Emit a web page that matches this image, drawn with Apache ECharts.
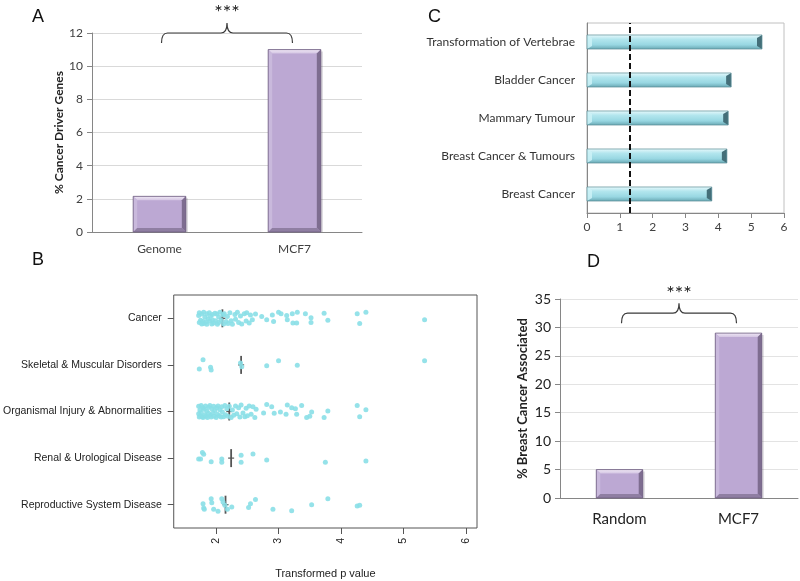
<!DOCTYPE html>
<html><head><meta charset="utf-8">
<script src="https://cdn.jsdelivr.net/npm/echarts@6/dist/echarts.min.js"></script>
<style>html,body{margin:0;padding:0;background:#fff}#c{width:800px;height:581px}</style>
</head><body><div id="c"></div>
<script>
// ---------- Panel A ----------
const aCats = ['Genome', 'MCF7'];
const aValues = [2.15, 11.0];
const aBraceAt = 12;
// ---------- Panel C ----------
const cCats = ['Breast Cancer', 'Breast Cancer & Tumours', 'Mammary Tumour', 'Bladder Cancer', 'Transformation of Vertebrae'];
const cValues = [3.80, 4.26, 4.30, 4.39, 5.33];
const cThreshold = 1.3;
// ---------- Panel B ----------
const bCats = ['Cancer', 'Skeletal & Muscular Disorders', 'Organismal Injury & Abnormalities', 'Renal & Urological Disease', 'Reproductive System Disease'];
const bTicks = [2, 3, 4, 5, 6];
const bMedians = [2.10, 2.40, 2.21, 2.24, 2.15];
const cancerX = [1.72,1.73,1.73,1.75,1.77,1.77,1.79,1.80,1.80,1.82,1.84,1.85,1.85,1.87,1.89,1.90,1.91,1.93,1.94,1.94,1.96,1.98,1.99,2.01,2.02,2.04,2.04,2.06,2.08,2.11,2.12,2.13,2.16,2.18,2.19,2.22,2.24,2.26,2.30,2.31,2.34,2.36,2.39,2.41,2.45,2.48,2.49,2.53,2.55,2.58,2.63,
  2.73,2.81,2.90,2.92,3.00,3.04,3.13,3.14,3.22,3.23,3.30,3.29,3.43,3.52,3.52,3.73,3.79,4.26,4.30,4.40,5.34];
const cancerJit = [-0.06,0.09,-0.12,0.04,0.12,-0.09,0.07,-0.13,0.11,-0.02,0.08,-0.10,0.13,0.01,-0.12,0.06,-0.05,0.12,-0.08,0.03,0.10,-0.11,0.05,-0.09,0.13,-0.03,0.09,-0.13,0.04,-0.07,0.12,-0.10,0.07,-0.04,0.11,-0.12,0.05,0.13,-0.08,0.02,-0.13,0.09,-0.05,0.12,-0.10,0.06,-0.12,0.10,-0.07,0.03,-0.09,
  -0.04,0.03,-0.07,0.07,-0.13,-0.10,-0.06,0.03,-0.10,0.10,-0.13,0.10,-0.10,-0.01,0.09,-0.11,0.04,-0.10,0.11,-0.13,0.03];
const skeletalX = [1.73,1.79,1.91,1.92,2.39,2.41,2.81,3.00,3.30,5.34];
const skeletalJit = [0.09,-0.11,0.05,0.11,-0.04,0.04,0.02,-0.09,0.01,-0.09];
const organX = [1.72,1.72,1.73,1.74,1.75,1.76,1.76,1.78,1.79,1.79,1.81,1.82,1.83,1.84,1.85,1.86,1.88,1.88,1.90,1.91,1.92,1.93,1.95,1.96,1.97,1.98,2.00,2.01,2.02,2.03,2.05,2.06,2.08,2.09,2.10,2.12,2.14,2.15,2.17,2.19,2.21,2.24,2.26,2.28,2.31,2.33,2.36,2.38,2.40,2.43,2.46,2.48,2.50,2.53,2.56,2.59,2.62,2.64,
  2.76,2.81,2.89,2.93,3.03,3.12,3.14,3.21,3.27,3.29,3.37,3.45,3.50,3.53,3.73,3.79,4.26,4.30,4.40];
const organJit = [0.05,-0.11,0.12,-0.03,0.09,-0.13,0.02,0.11,-0.08,0.13,-0.05,0.07,-0.12,0.10,-0.01,0.13,-0.09,0.04,-0.13,0.08,0.12,-0.06,0.03,-0.11,0.10,-0.02,0.13,-0.08,0.06,-0.12,0.09,-0.04,0.12,-0.10,0.01,0.11,-0.13,0.07,-0.06,0.10,-0.11,0.13,-0.03,0.08,-0.12,0.05,-0.08,0.12,-0.14,0.03,0.11,-0.07,0.09,-0.12,0.06,-0.10,0.13,-0.05,
  0.03,-0.15,-0.10,0.04,0.01,0.06,-0.14,-0.08,-0.06,0.06,-0.13,0.13,0.10,0.01,0.13,-0.01,-0.13,0.11,-0.04];
const renalX = [1.72,1.75,1.78,1.80,1.92,2.09,2.09,2.40,2.40,2.59,2.81,3.75,4.40];
const renalJit = [0.02,0.02,-0.12,-0.08,0.08,0.02,0.09,-0.06,0.09,-0.09,0.04,0.09,0.06];
const reproX = [1.79,1.80,1.81,1.92,1.93,1.96,2.03,2.09,2.11,2.14,2.18,2.25,2.52,2.55,2.63,2.91,3.21,3.53,3.79,4.26,4.30];
const reproJit = [-0.02,0.07,0.10,-0.13,-0.04,0.10,0.14,-0.13,-0.06,0.01,0.10,0.05,0.06,-0.02,-0.11,0.10,0.13,0.00,-0.13,0.03,0.01];
// ---------- Panel D ----------
const dCats = ['Random', 'MCF7'];
const dValues = [5, 29];
const dBraceAt = 32.5;

const calibri = 'Lato';
const arial = 'Liberation Sans';

function bevelBar(ratio, b) {
  return function (params, api) {
    const idx = api.value(0), v = api.value(1);
    const pt = api.coord([idx, v]), pb = api.coord([idx, 0]);
    const w = api.size([1, 0])[0] * ratio;
    const x0 = pt[0] - w / 2, x1 = pt[0] + w / 2, y0 = pt[1], y1 = pb[1];
    return {
      type: 'group', children: [
        { type: 'rect', shape: { x: x0 + 2, y: y0 + 2, width: w, height: y1 - y0 - 2 }, style: { fill: 'rgba(80,70,90,0.22)' } },
        { type: 'rect', shape: { x: x0, y: y0, width: w, height: y1 - y0 }, style: { fill: '#bca8d3' } },
        { type: 'polygon', shape: { points: [[x0, y0], [x1, y0], [x1 - b, y0 + b], [x0 + b, y0 + b]] },
          style: { fill: new echarts.graphic.LinearGradient(0, 0, 0, 1, [{ offset: 0, color: '#efe7f5' }, { offset: 1, color: '#d3c4e2' }]) } },
        { type: 'polygon', shape: { points: [[x0, y0], [x0 + b, y0 + b], [x0 + b, y1 - b], [x0, y1]] }, style: { fill: '#c9b9dc' } },
        { type: 'polygon', shape: { points: [[x1, y0], [x1, y1], [x1 - b, y1 - b], [x1 - b, y0 + b]] }, style: { fill: '#7e6d90' } },
        { type: 'polygon', shape: { points: [[x0, y1], [x1, y1], [x1 - b, y1 - b], [x0 + b, y1 - b]] }, style: { fill: '#8f7ea2' } },
        { type: 'rect', shape: { x: x0, y: y0, width: w, height: y1 - y0 }, style: { fill: 'none', stroke: '#6c5c7e', lineWidth: 0.8 } }
      ]
    };
  };
}

function hBar(params, api) {
  const v = api.value(0), idx = api.value(1);
  const p0 = api.coord([0, idx]), p1 = api.coord([v, idx]);
  const h = api.size([0, 1])[1] * 0.37;
  const x0 = p0[0], x1 = p1[0], y0 = p0[1] - h / 2, y1 = p0[1] + h / 2;
  const b = 5;
  return {
    type: 'group', children: [
      { type: 'rect', shape: { x: x0, y: y0, width: x1 - x0, height: h },
        style: { fill: new echarts.graphic.LinearGradient(0, 0, 0, 1, [
          { offset: 0, color: '#e6f8fb' }, { offset: 0.3, color: '#b3e6ee' },
          { offset: 0.7, color: '#98d7e2' }, { offset: 1, color: '#6aa9b5' }]) } },
      { type: 'polygon', shape: { points: [[x0, y0], [x0 + b, y0 + 3], [x0 + b, y1 - 3], [x0, y1]] }, style: { fill: 'rgba(205,242,247,0.85)' } },
      { type: 'polygon', shape: { points: [[x1, y0], [x1, y1], [x1 - b, y1 - 3], [x1 - b, y0 + 3]] }, style: { fill: '#446f79' } },
      { type: 'rect', shape: { x: x0, y: y0, width: x1 - x0, height: h }, style: { fill: 'none', stroke: '#5a8c97', lineWidth: 0.7 } }
    ]
  };
}

function brace(params, api) {
  const yv = api.value(2);
  const pa = api.coord([api.value(0), yv]), pb = api.coord([api.value(1), yv]);
  const x0 = pa[0] + 2, x1 = pb[0] - 2, y = pa[1], mid = (x0 + x1) / 2;
  const d = 'M' + x0 + ' ' + (y + 10) + ' Q' + x0 + ' ' + y + ' ' + (x0 + 6) + ' ' + y +
    ' L' + (mid - 6) + ' ' + y + ' Q' + mid + ' ' + y + ' ' + mid + ' ' + (y - 10) +
    ' Q' + mid + ' ' + y + ' ' + (mid + 6) + ' ' + y + ' L' + (x1 - 6) + ' ' + y +
    ' Q' + x1 + ' ' + y + ' ' + x1 + ' ' + (y + 10);
  return {
    type: 'group', children: [
      { type: 'path', shape: { pathData: d }, style: { fill: 'none', stroke: '#3a3a3a', lineWidth: 1.2 } },
      { type: 'text', x: mid, y: y - 10, style: { text: '***', font: '20px ' + calibri, fill: '#222', align: 'center', verticalAlign: 'bottom' } }
    ]
  };
}

function medianMark(params, api) {
  const p = api.coord([api.value(0), api.value(1)]);
  return {
    type: 'group', children: [
      { type: 'line', shape: { x1: p[0], y1: p[1] - 9, x2: p[0], y2: p[1] + 9 }, style: { stroke: '#555', lineWidth: 1.8 } },
      { type: 'line', shape: { x1: p[0] - 3, y1: p[1], x2: p[0] + 3, y2: p[1] }, style: { stroke: '#555', lineWidth: 1.2 } }
    ]
  };
}

const groupsX = [cancerX, skeletalX, organX, renalX, reproX];
const groupsJ = [cancerJit, skeletalJit, organJit, renalJit, reproJit];
const scatterData = [];
groupsX.forEach((xs, g) => xs.forEach((x, i) => scatterData.push([x, g + 1 + groupsJ[g][i]])));

const axisGrey = '#868686';
const chart = echarts.init(document.getElementById('c'));
chart.setOption({
  animation: false,
  backgroundColor: '#fff',
  grid: [
    { left: 92, top: 33, width: 270, height: 199 },
    { left: 587, top: 23, width: 197, height: 190, show: true, borderColor: '#c0c0c0', borderWidth: 1 },
    { left: 173, top: 295, width: 304, height: 233, show: true, borderColor: '#555', borderWidth: 1 },
    { left: 560, top: 299, width: 238, height: 199 }
  ],
  xAxis: [
    { type: 'category', gridIndex: 0, data: aCats,
      axisLine: { lineStyle: { color: axisGrey } }, axisTick: { length: 5, lineStyle: { color: axisGrey } },
      axisLabel: { fontFamily: calibri, fontSize: 12, color: '#404040', margin: 11 } },
    { type: 'value', gridIndex: 1, min: 0, max: 6, interval: 1, splitLine: { show: false },
      axisLine: { show: true, lineStyle: { color: axisGrey } }, axisTick: { show: true, length: 5, lineStyle: { color: axisGrey } },
      axisLabel: { fontFamily: calibri, fontSize: 12, color: '#404040', margin: 8 } },
    { type: 'value', gridIndex: 2, min: 1.32, max: 6.18, splitLine: { show: false },
      axisLine: { show: false },
      axisTick: { show: true, length: 6, customValues: bTicks, lineStyle: { color: '#555' } },
      axisLabel: { customValues: bTicks, rotate: 90, fontFamily: arial, fontSize: 10.5, color: '#222', margin: 10 },
      name: 'Transformed p value', nameLocation: 'middle', nameGap: 40,
      nameTextStyle: { fontFamily: arial, fontSize: 11, color: '#222' } },
    { type: 'category', gridIndex: 3, data: dCats,
      axisLine: { lineStyle: { color: axisGrey } }, axisTick: { length: 5, lineStyle: { color: axisGrey } },
      axisLabel: { fontFamily: calibri, fontSize: 15, color: '#222', margin: 14 } }
  ],
  yAxis: [
    { type: 'value', gridIndex: 0, min: 0, max: 12, interval: 2,
      splitLine: { lineStyle: { color: '#d9d9d9' } },
      axisLine: { show: true, lineStyle: { color: axisGrey } }, axisTick: { show: true, length: 5, lineStyle: { color: axisGrey } },
      axisLabel: { fontFamily: calibri, fontSize: 12, color: '#404040', margin: 9 },
      name: '% Cancer Driver Genes', nameLocation: 'middle', nameGap: 27,
      nameTextStyle: { fontFamily: calibri, fontSize: 12, fontWeight: 'bold', color: '#222' } },
    { type: 'category', gridIndex: 1, data: cCats,
      axisLine: { lineStyle: { color: axisGrey } }, axisTick: { length: 5, lineStyle: { color: axisGrey } },
      axisLabel: { fontFamily: calibri, fontSize: 12, color: '#333', margin: 12 } },
    { type: 'value', gridIndex: 2, min: 0.5, max: 5.5, inverse: true, splitLine: { show: false },
      axisLine: { show: false },
      axisTick: { show: true, length: 6, customValues: [1, 2, 3, 4, 5], lineStyle: { color: '#555' } },
      axisLabel: { customValues: [1, 2, 3, 4, 5], formatter: v => bCats[Math.round(v) - 1],
        fontFamily: arial, fontSize: 10.5, color: '#222', margin: 12 } },
    { type: 'value', gridIndex: 3, min: 0, max: 35, interval: 5,
      splitLine: { lineStyle: { color: '#e3e3e3' } },
      axisLine: { show: true, lineStyle: { color: axisGrey } }, axisTick: { show: true, length: 5, lineStyle: { color: axisGrey } },
      axisLabel: { fontFamily: calibri, fontSize: 14, color: '#222', margin: 9 },
      name: '% Breast Cancer Associated', nameLocation: 'middle', nameGap: 31,
      nameTextStyle: { fontFamily: calibri, fontSize: 13, fontWeight: 'bold', color: '#222' } }
  ],
  series: [
    { type: 'custom', xAxisIndex: 0, yAxisIndex: 0, renderItem: bevelBar(0.39, 4),
      data: aValues.map((v, i) => [i, v]), encode: { x: 0, y: 1 }, silent: true },
    { type: 'custom', xAxisIndex: 0, yAxisIndex: 0, renderItem: brace, data: [[0, 1, aBraceAt]], encode: { x: [0, 1], y: 2 }, silent: true, clip: false },
    { type: 'custom', xAxisIndex: 1, yAxisIndex: 1, renderItem: hBar,
      data: cValues.map((v, i) => [v, i]), encode: { x: 0, y: 1 }, silent: true,
      markLine: { silent: true, symbol: ['none', 'none'], label: { show: false },
        lineStyle: { type: [6, 3], color: '#111', width: 2 }, data: [{ xAxis: cThreshold }] } },
    { type: 'scatter', xAxisIndex: 2, yAxisIndex: 2, data: scatterData, symbolSize: 5,
      itemStyle: { color: '#8adfe7', opacity: 0.9 }, silent: true },
    { type: 'custom', xAxisIndex: 2, yAxisIndex: 2, renderItem: medianMark,
      data: bMedians.map((m, i) => [m, i + 1]), encode: { x: 0, y: 1 }, silent: true },
    { type: 'custom', xAxisIndex: 3, yAxisIndex: 3, renderItem: bevelBar(0.39, 4),
      data: dValues.map((v, i) => [i, v]), encode: { x: 0, y: 1 }, silent: true },
    { type: 'custom', xAxisIndex: 3, yAxisIndex: 3, renderItem: brace, data: [[0, 1, dBraceAt]], encode: { x: [0, 1], y: 2 }, silent: true, clip: false }
  ],
  graphic: [
    { type: 'text', left: 32, top: 8, style: { text: 'A', font: '18px ' + arial, fill: '#111' } },
    { type: 'text', left: 428, top: 8, style: { text: 'C', font: '18px ' + arial, fill: '#111' } },
    { type: 'text', left: 32, top: 251, style: { text: 'B', font: '18px ' + arial, fill: '#111' } },
    { type: 'text', left: 587, top: 253, style: { text: 'D', font: '18px ' + arial, fill: '#111' } }
  ]
});
</script></body></html>
